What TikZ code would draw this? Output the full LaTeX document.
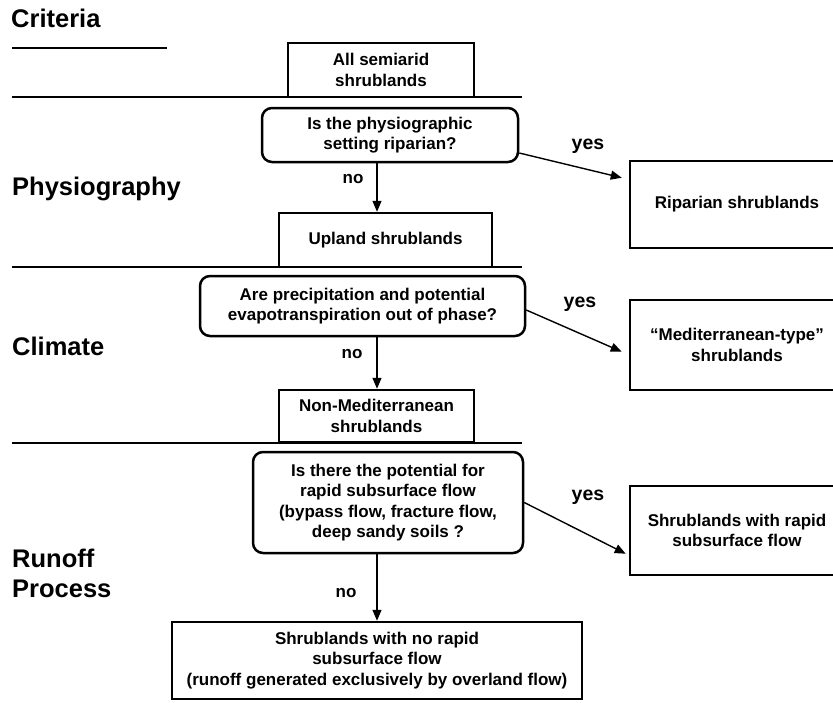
\documentclass[tikz,border=0pt]{standalone}
\usepackage{fontspec}
\setmainfont{Liberation Sans}
\usetikzlibrary{arrows.meta,calc}
\newcommand\myboxfont{\bfseries\fontsize{17}{20.3}\selectfont}
\newcommand\myheadfont{\bfseries\fontsize{25.5}{30}\selectfont}
\newcommand\myyesfont{\bfseries\fontsize{19.5}{22}\selectfont}
\newcommand\mynofont{\bfseries\fontsize{17}{20}\selectfont}
\begin{document}
\begin{tikzpicture}[x=1pt,y=-1pt,
  box/.style={draw, line width=2.5pt, inner sep=0pt, align=center, font=\myboxfont},
  qbox/.style={box, rounded corners=10pt},
  sepline/.style={line width=2.8pt},
  arr/.style={line width=1.4pt, -{Triangle[length=11pt,width=9pt]}},
  head/.style={font=\myheadfont, inner sep=0pt, anchor=base west},
  yeslab/.style={font=\myyesfont, inner sep=0pt},
  nolab/.style={font=\mynofont, inner sep=0pt}]
\useasboundingbox (0,0) rectangle (833,702);

% criteria headings
\node[head] (hcrit) at (11,27) {Criteria};
\node[head] (hphys) at (12,195) {Physiography};
\node[head] (hclim) at (12,355) {Climate};
\node[head] (hrun) at (12,567) {Runoff};
\node[head] (hproc) at (12,597) {Process};

% separator lines
\draw[sepline] (12,48) -- (167,48);
\draw[sepline] (12,97) -- (522,97);
\draw[sepline] (12,267) -- (522,267);
\draw[sepline] (12,443) -- (522,443);

% boxes
\node[box, minimum width=186, minimum height=54] (semi) at (381,70) {All semiarid\\shrublands};
\node[qbox, minimum width=256, minimum height=54] (q1) at (390,135) {Is the physiographic\\setting riparian?};
\node[box, minimum width=213, minimum height=54] (up) at (385.5,240) {Upland shrublands};
\node[qbox, minimum width=325, minimum height=60] (q2) at (362.5,306) {Are precipitation and potential\\evapotranspiration out of phase?};
\node[box, minimum width=195, minimum height=52] (nonmed) at (376.5,416) {Non-Mediterranean\\shrublands};
\node[qbox, minimum width=270, minimum height=101] (q3) at (388,502.5) {Is there the potential for\\rapid subsurface flow\\(bypass flow, fracture flow,\\deep sandy soils ?};
\node[box, minimum width=410, minimum height=77] (bot) at (377,660.5) {Shrublands with no rapid\\subsurface flow\\(runoff generated exclusively by overland flow)};
\node[box, minimum width=214, minimum height=87] (rip) at (737,204.5) {Riparian shrublands};
\node[box, minimum width=214, minimum height=90] (med) at (737,345) {“Mediterranean-type”\\shrublands};
\node[box, minimum width=214, minimum height=89] (rap) at (737,530.5) {Shrublands with rapid\\subsurface flow};

% connectors
\coordinate (ax) at (377,0);
\draw[arr] (q1.south -| ax) -- (up.north -| ax);
\draw[arr] (q2.south -| ax) -- (nonmed.north -| ax);
\draw[arr] (q3.south -| ax) -- (bot.north -| ax);
\draw[arr] ($(q1.east)+(0,18)$) -- ($(rip.north west)+(-7,18)$);
\draw[arr] ($(q2.east)+(0,4)$) -- ($(med.north west)+(-7,53)$);
\draw[arr] (q3.east) -- ($(rap.north west)+(-3,69)$);

% labels
\node[yeslab] (y1) at (588,146) {yes};
\node[yeslab] (y2) at (580,304) {yes};
\node[yeslab] (y3) at (588,497) {yes};
\node[nolab] (n1) at (353,179) {no};
\node[nolab] (n2) at (352,354) {no};
\node[nolab] (n3) at (346,593) {no};
\end{tikzpicture}
\end{document}
